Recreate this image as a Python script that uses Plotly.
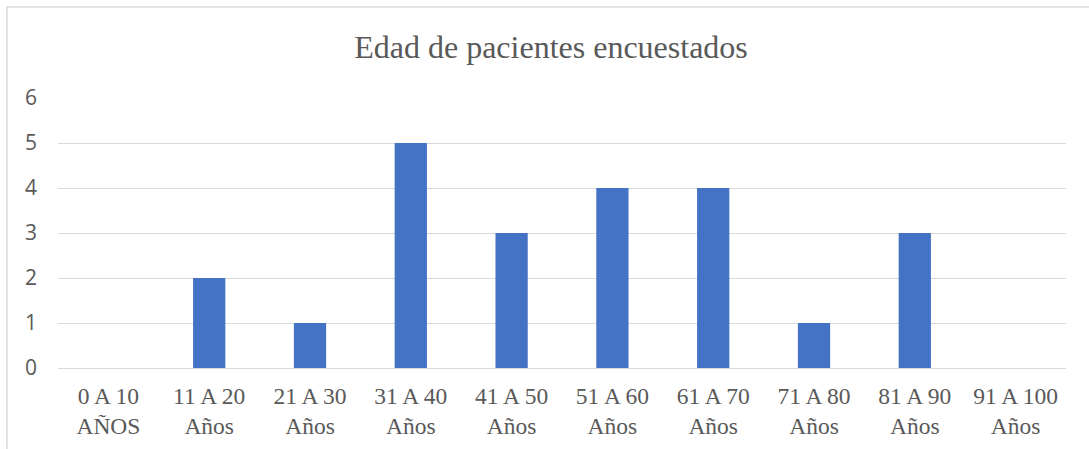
import plotly.graph_objects as go

# Age groups of surveyed patients and how many fall in each
categories = ["0 A 10<br>AÑOS", "11 A 20<br>Años", "21 A 30<br>Años", "31 A 40<br>Años",
              "41 A 50<br>Años", "51 A 60<br>Años", "61 A 70<br>Años", "71 A 80<br>Años",
              "81 A 90<br>Años", "91 A 100<br>Años"]
patients = [0, 2, 1, 5, 3, 4, 4, 1, 3, 0]
y_ticks = [0, 1, 2, 3, 4, 5, 6]

title_text = "Edad de pacientes encuestados"

W, H = 1089, 449
L, R, T, B = 58, 23, 98, 81

fig = go.Figure(
    go.Bar(
        x=categories,
        y=patients,
        marker=dict(color="#4472C4", line=dict(width=0)),
        hoverinfo="skip",
    )
)

# chart frame, expressed in paper units of the plot area
pw, ph = W - L - R, H - T - B
fx0 = (7 - L) / pw
fy1 = 1 + (T - 7) / ph
fig.add_shape(type="rect", xref="paper", yref="paper",
              x0=fx0, x1=1.2, y0=-0.6, y1=fy1,
              line=dict(color="#D9D9D9", width=1.5), layer="below")

fig.update_layout(
    width=W, height=H,
    margin=dict(l=L, r=R, t=T, b=B, pad=0, autoexpand=False),
    paper_bgcolor="white",
    plot_bgcolor="white",
    bargap=0.68,
    showlegend=False,
    title=dict(
        text=title_text,
        x=551 / W, xref="container", xanchor="center",
        y=1 - 47 / H, yref="container", yanchor="middle",
        font=dict(family="Liberation Serif", size=32, color="#595959"),
    ),
    xaxis=dict(
        showgrid=False, zeroline=False, showline=False, ticks="",
        tickfont=dict(family="Liberation Serif", size=23.5, color="#595959"),
        tickangle=0, ticklabelstandoff=11, automargin=False,
    ),
    yaxis=dict(
        range=[0, 6], tickvals=y_ticks,
        showgrid=True, gridcolor="#D9D9D9", gridwidth=1.3,
        zeroline=True, zerolinecolor="#D9D9D9", zerolinewidth=1.3,
        showline=False, ticks="", ticklabelstandoff=20, automargin=False,
        tickfont=dict(family="Open Sans", size=21, color="#595959"),
    ),
)

fig.write_html("out.html")
